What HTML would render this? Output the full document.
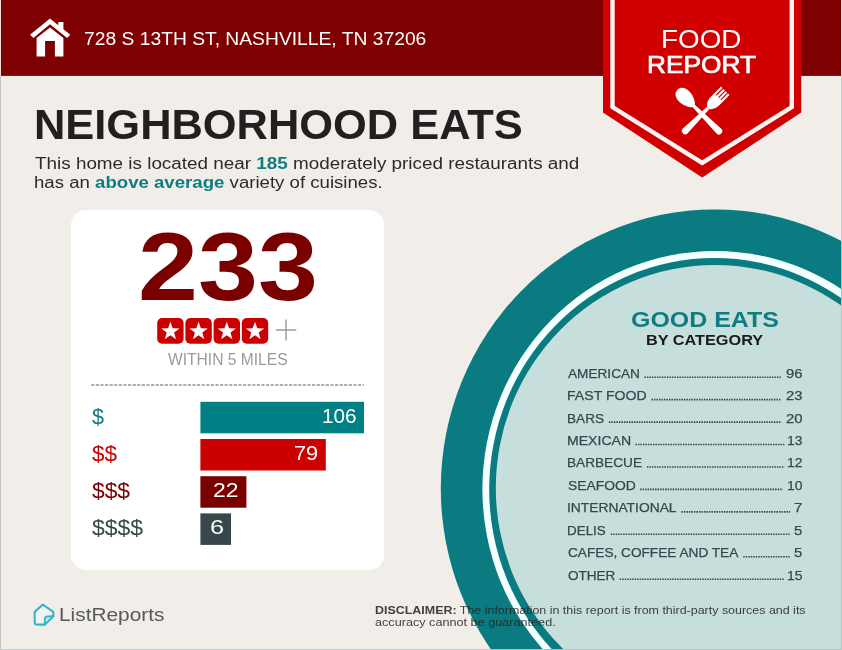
<!DOCTYPE html>
<html lang="en"><head><meta charset="utf-8"><title>Food Report</title>
<style>
html,body{margin:0;padding:0}
body{width:842px;height:650px;position:relative;overflow:hidden;background:#f1ede9;font-family:"Liberation Sans", sans-serif}
.t{position:absolute;white-space:nowrap;line-height:1;transform-origin:0 0;margin:0}
.abs{position:absolute}
#p1 b,#p2 b{color:#0d7d80}
svg{position:absolute;left:0;top:0}
</style></head><body>
<svg width="842" height="650" viewBox="0 0 842 650">
<rect x="0" y="0" width="842" height="75.9" fill="#7f0000"/>
<ellipse cx="714.8" cy="488.5" rx="274" ry="279.1" fill="#0a7b80"/>
<ellipse cx="715" cy="489.2" rx="232.6" ry="238.3" fill="#f4ffff"/>
<ellipse cx="714.5" cy="489.3" rx="225.3" ry="231.2" fill="#0a7b80"/>
<ellipse cx="715" cy="488" rx="219.2" ry="223.1" fill="#c6dfdd"/>
<rect x="71" y="210" width="313.2" height="359.9" rx="15" ry="15" fill="#ffffff"/>
<polygon points="603,0 603,112.5 702.2,177.4 801.2,112.5 801.2,0" fill="#d00000"/>
<polyline points="612.5,-2 612.5,107 702.2,162.9 791.8,107 791.8,-2" fill="none" stroke="#fff4f4" stroke-width="4.4"/>
<g fill="#ffffff">
<polygon points="50,18.6 58.3,25.2 58.3,21.9 63.4,21.9 63.4,29.3 70.3,34.8 67.1,38 50,24.35 33.4,38 30,34.8"/>
<path d="M50 27.4 L63.4 38.1 L63.4 56.5 L54.9 56.5 L54.9 41 L45.1 41 L45.1 56.5 L36.6 56.5 L36.6 38.1 Z"/>
</g>
<g transform="translate(701.9,114.2)" fill="#ffffff">
<g transform="rotate(45)">
<path d="M-1.6 -9 L-3.4 23.5 A3.4 3.4 0 0 0 3.4 23.5 L1.6 -9 Z"/>
<path d="M-6 -33 L-6 -19 Q-6 -12 -1.6 -9 L1.6 -9 Q6 -12 6 -19 L6 -33 L3.9 -33 L3.9 -23.5 L2.7 -23.5 L2.7 -33 L0.6 -33 L0.6 -23.5 L-0.6 -23.5 L-0.6 -33 L-2.7 -33 L-2.7 -23.5 L-3.9 -23.5 L-3.9 -33 Z"/>
</g>
<g transform="rotate(-45)">
<path d="M-1.6 -12 L-3.4 24 A3.4 3.4 0 0 0 3.4 24 L1.6 -12 Z"/>
<path d="M0 -34.5 C5 -34.5 7.2 -30 7.2 -25.5 C7.2 -18 3 -11.5 0 -10.5 C-3 -11.5 -7.2 -18 -7.2 -25.5 C-7.2 -30 -5 -34.5 0 -34.5 Z"/>
</g>
</g>
<rect x="157.2" y="318" width="26.4" height="25.8" rx="5" ry="5" fill="#cc0000"/><polygon points="170.40,321.80 172.69,328.24 179.53,328.43 174.11,332.61 176.04,339.17 170.40,335.30 164.76,339.17 166.69,332.61 161.27,328.43 168.11,328.24" fill="#ffffff"/><rect x="185.4" y="318" width="26.4" height="25.8" rx="5" ry="5" fill="#cc0000"/><polygon points="198.60,321.80 200.89,328.24 207.73,328.43 202.31,332.61 204.24,339.17 198.60,335.30 192.96,339.17 194.89,332.61 189.47,328.43 196.31,328.24" fill="#ffffff"/><rect x="213.6" y="318" width="26.4" height="25.8" rx="5" ry="5" fill="#cc0000"/><polygon points="226.80,321.80 229.09,328.24 235.93,328.43 230.51,332.61 232.44,339.17 226.80,335.30 221.16,339.17 223.09,332.61 217.67,328.43 224.51,328.24" fill="#ffffff"/><rect x="241.8" y="318" width="26.4" height="25.8" rx="5" ry="5" fill="#cc0000"/><polygon points="255.00,321.80 257.29,328.24 264.13,328.43 258.71,332.61 260.64,339.17 255.00,335.30 249.36,339.17 251.29,332.61 245.87,328.43 252.71,328.24" fill="#ffffff"/><path d="M275.8 330 H296.3 M286 319.5 V340.4" stroke="#9b9b9b" stroke-width="1.4" fill="none"/><line x1="91.2" y1="385" x2="364.1" y2="385" stroke="#5e5e5e" stroke-width="1.1" stroke-dasharray="3.2 1.4"/><rect x="200.4" y="401.8" width="163.6" height="31.5" fill="#008084"/><rect x="200.4" y="439.0" width="125.4" height="31.5" fill="#cc0000"/><rect x="200.4" y="476.2" width="46.0" height="31.5" fill="#7a0000"/><rect x="200.4" y="513.4" width="30.6" height="31.5" fill="#37474a"/><line x1="644.4" y1="377.2" x2="780.8" y2="377.2" stroke="#36474a" stroke-width="1.6" stroke-dasharray="1.5 1.0"/><line x1="651.4" y1="399.6" x2="781.3" y2="399.6" stroke="#36474a" stroke-width="1.6" stroke-dasharray="1.5 1.0"/><line x1="608.9" y1="422.1" x2="780.8" y2="422.1" stroke="#36474a" stroke-width="1.6" stroke-dasharray="1.5 1.0"/><line x1="635.4" y1="444.5" x2="784.6" y2="444.5" stroke="#36474a" stroke-width="1.6" stroke-dasharray="1.5 1.0"/><line x1="646.9" y1="467.0" x2="784.6" y2="467.0" stroke="#36474a" stroke-width="1.6" stroke-dasharray="1.5 1.0"/><line x1="640.1" y1="489.4" x2="782.8" y2="489.4" stroke="#36474a" stroke-width="1.6" stroke-dasharray="1.5 1.0"/><line x1="681.4" y1="511.9" x2="790.1" y2="511.9" stroke="#36474a" stroke-width="1.6" stroke-dasharray="1.5 1.0"/><line x1="610.7" y1="534.3" x2="790.3" y2="534.3" stroke="#36474a" stroke-width="1.6" stroke-dasharray="1.5 1.0"/><line x1="743.2" y1="556.8" x2="790.3" y2="556.8" stroke="#36474a" stroke-width="1.6" stroke-dasharray="1.5 1.0"/><line x1="619.7" y1="579.2" x2="784.3" y2="579.2" stroke="#36474a" stroke-width="1.6" stroke-dasharray="1.5 1.0"/><path d="M42.8 604.6 L34.7 611.8 L34.7 622.6 Q34.7 624.6 36.7 624.6 L44.8 624.6 L53.3 616.2 L53.3 611.8 Z" fill="#eef4f3" stroke="#38b4c9" stroke-width="2.1" stroke-linejoin="round"/>
<path d="M44.8 624.6 L44.8 619.4 Q44.8 616.6 47.6 616.4 L53.3 616.2 Z" fill="#c3e8ef" stroke="#38b4c9" stroke-width="1.8" stroke-linejoin="round" stroke-linecap="round"/>
<path d="M0.5 75.9 V649.5 H491 M841.5 241 V75.9" fill="none" stroke="#c4c8c8" stroke-width="1"/><path d="M491 649.5 H563 M841.5 300 V241" fill="none" stroke="#7fd3da" stroke-width="1"/><path d="M563 649.5 H841.5 V300" fill="none" stroke="#b2c9c8" stroke-width="1"/><rect x="0" y="0" width="1" height="75.9" fill="#f6d9d9"/><rect x="841" y="0" width="1" height="75.9" fill="#f6d9d9"/></svg>
<div class="t" id="addr" style="left:84.11px;top:29.15px;font-size:19.2px;color:#fff;transform:scaleX(1.0041)">728 S 13TH ST, NASHVILLE, TN 37206</div>
<div class="t" id="food" style="left:661.32px;top:26.84px;font-size:25.0px;color:#fff;transform:scaleX(1.1135)">FOOD</div>
<div class="t" id="report" style="left:647.14px;top:52.68px;font-size:24.0px;color:#fff;-webkit-text-stroke:0.7px #fff;transform:scaleX(1.0952)">REPORT</div>
<div class="t" id="title" style="left:34.30px;top:104.39px;font-size:41.6px;color:#231f20;font-weight:bold;transform:scaleX(1.0437)">NEIGHBORHOOD EATS</div>
<div class="t" id="p1" style="left:34.88px;top:155.96px;font-size:16.0px;color:#2b2b2b;transform:scaleX(1.1792)">This home is located near <b>185</b> moderately priced restaurants and</div>
<div class="t" id="p2" style="left:34.01px;top:175.36px;font-size:16.0px;color:#2b2b2b;transform:scaleX(1.1633)">has an <b>above average</b> variety of cuisines.</div>
<div class="t" id="big" style="left:138.06px;top:219.14px;font-size:96.0px;color:#7a0000;font-weight:bold;transform:scaleX(1.1227)">233</div>
<div class="t" id="within" style="left:167.93px;top:352.19px;font-size:15.6px;color:#9b9b9b;transform:scaleX(1.0001)">WITHIN 5 MILES</div>
<div class="t" id="lab0" style="left:92.27px;top:406.18px;font-size:22.0px;color:#0d7d80;transform:scaleX(0.9778)">$</div>
<div class="t" id="lab1" style="left:92.26px;top:442.88px;font-size:22.0px;color:#cc0000;transform:scaleX(1.0225)">$$</div>
<div class="t" id="lab2" style="left:92.25px;top:480.38px;font-size:22.0px;color:#7a0000;transform:scaleX(1.0369)">$$$</div>
<div class="t" id="lab3" style="left:92.25px;top:517.38px;font-size:22.0px;color:#37474a;transform:scaleX(1.0440)">$$$$</div>
<div class="t" id="val0" style="left:321.72px;top:407.29px;font-size:19.5px;color:#fff;transform:scaleX(1.0628)">106</div>
<div class="t" id="val1" style="left:294.38px;top:443.99px;font-size:19.5px;color:#fff;transform:scaleX(1.1173)">79</div>
<div class="t" id="val2" style="left:213.15px;top:481.49px;font-size:19.5px;color:#fff;transform:scaleX(1.1752)">22</div>
<div class="t" id="val3" style="left:209.91px;top:518.49px;font-size:19.5px;color:#fff;transform:scaleX(1.2982)">6</div>
<div class="t" id="good" style="left:631.18px;top:308.30px;font-size:22.8px;color:#0d7d80;font-weight:bold;transform:scaleX(1.0939)">GOOD EATS</div>
<div class="t" id="bycat" style="left:645.61px;top:332.43px;font-size:15.2px;color:#1a1a1a;font-weight:bold;transform:scaleX(1.0706)">BY CATEGORY</div>
<div class="t" id="row0" style="left:568.17px;top:366.62px;font-size:13.5px;color:#36474a;-webkit-text-stroke:0.25px #36474a;transform:scaleX(1.0094)">AMERICAN</div>
<div class="t" id="num0" style="left:785.82px;top:366.62px;font-size:13.5px;color:#36474a;-webkit-text-stroke:0.25px #36474a;transform:scaleX(1.1000)">96</div>
<div class="t" id="row1" style="left:567.04px;top:389.07px;font-size:13.5px;color:#36474a;-webkit-text-stroke:0.25px #36474a;transform:scaleX(1.0441)">FAST FOOD</div>
<div class="t" id="num1" style="left:785.82px;top:389.07px;font-size:13.5px;color:#36474a;-webkit-text-stroke:0.25px #36474a;transform:scaleX(1.1000)">23</div>
<div class="t" id="row2" style="left:567.08px;top:411.52px;font-size:13.5px;color:#36474a;-webkit-text-stroke:0.25px #36474a;transform:scaleX(1.0075)">BARS</div>
<div class="t" id="num2" style="left:785.75px;top:411.52px;font-size:13.5px;color:#36474a;-webkit-text-stroke:0.25px #36474a;transform:scaleX(1.1000)">20</div>
<div class="t" id="row3" style="left:567.05px;top:433.97px;font-size:13.5px;color:#36474a;-webkit-text-stroke:0.25px #36474a;transform:scaleX(1.0420)">MEXICAN</div>
<div class="t" id="num3" style="left:786.83px;top:433.97px;font-size:13.5px;color:#36474a;-webkit-text-stroke:0.25px #36474a;transform:scaleX(1.0300)">13</div>
<div class="t" id="row4" style="left:567.08px;top:456.42px;font-size:13.5px;color:#36474a;-webkit-text-stroke:0.25px #36474a;transform:scaleX(1.0097)">BARBECUE</div>
<div class="t" id="num4" style="left:786.92px;top:456.42px;font-size:13.5px;color:#36474a;-webkit-text-stroke:0.25px #36474a;transform:scaleX(1.0300)">12</div>
<div class="t" id="row5" style="left:567.57px;top:478.87px;font-size:13.5px;color:#36474a;-webkit-text-stroke:0.25px #36474a;transform:scaleX(1.0269)">SEAFOOD</div>
<div class="t" id="num5" style="left:786.76px;top:478.87px;font-size:13.5px;color:#36474a;-webkit-text-stroke:0.25px #36474a;transform:scaleX(1.0300)">10</div>
<div class="t" id="row6" style="left:566.92px;top:501.32px;font-size:13.5px;color:#36474a;-webkit-text-stroke:0.25px #36474a;transform:scaleX(1.0235)">INTERNATIONAL</div>
<div class="t" id="num6" style="left:794.18px;top:501.32px;font-size:13.5px;color:#36474a;-webkit-text-stroke:0.25px #36474a;transform:scaleX(1.1000)">7</div>
<div class="t" id="row7" style="left:567.10px;top:523.77px;font-size:13.5px;color:#36474a;-webkit-text-stroke:0.25px #36474a;transform:scaleX(0.9945)">DELIS</div>
<div class="t" id="num7" style="left:794.06px;top:523.77px;font-size:13.5px;color:#36474a;-webkit-text-stroke:0.25px #36474a;transform:scaleX(1.1000)">5</div>
<div class="t" id="row8" style="left:567.51px;top:546.22px;font-size:13.5px;color:#36474a;-webkit-text-stroke:0.25px #36474a;transform:scaleX(1.0105)">CAFES, COFFEE AND TEA</div>
<div class="t" id="num8" style="left:794.06px;top:546.22px;font-size:13.5px;color:#36474a;-webkit-text-stroke:0.25px #36474a;transform:scaleX(1.1000)">5</div>
<div class="t" id="row9" style="left:567.56px;top:568.67px;font-size:13.5px;color:#36474a;-webkit-text-stroke:0.25px #36474a;transform:scaleX(1.0025)">OTHER</div>
<div class="t" id="num9" style="left:786.80px;top:568.67px;font-size:13.5px;color:#36474a;-webkit-text-stroke:0.25px #36474a;transform:scaleX(1.0300)">15</div>
<div class="t" id="d1" style="left:374.87px;top:605.01px;font-size:11.8px;color:#222;opacity:.85;transform:scaleX(1.0547)"><b>DISCLAIMER:</b> The information in this report is from third-party sources and its</div>
<div class="t" id="d2" style="left:375.16px;top:617.41px;font-size:11.8px;color:#222;opacity:.85;transform:scaleX(1.0720)">accuracy cannot be guaranteed.</div>
<div class="t" id="lr" style="left:58.89px;top:606.46px;font-size:18.6px;color:#58595b;transform:scaleX(1.1214)">ListReports</div>
</body></html>
